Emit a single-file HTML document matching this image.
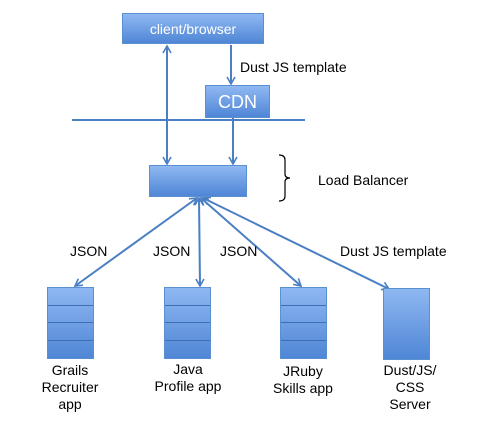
<!DOCTYPE html>
<html><head><style>
body{margin:0;width:484px;height:425px;background:#fff;position:relative;font-family:"Liberation Sans",sans-serif;overflow:hidden}
.b{position:absolute;background:linear-gradient(#8fb8f2,#4f86d6);border:1px solid #5a8fd0;box-sizing:border-box;color:#fff;text-align:center}
.t{position:absolute;font-size:14px;color:#000;text-align:center;line-height:17px}
.s{position:absolute;box-sizing:border-box;border:1px solid #5a8fd0;background:linear-gradient(#8fb8f2,#4f86d6)}
.s div{height:25%;box-sizing:border-box;border-bottom:1px solid #3d6fb5}
.s div:last-child{border-bottom:none}
</style></head><body>
<svg width="484" height="425" style="position:absolute;left:0;top:0">
<defs><marker id="a" markerWidth="10" markerHeight="10" refX="8" refY="5" orient="auto-start-reverse" markerUnits="userSpaceOnUse"><path d="M1,1 L8,5 L1,9" fill="none" stroke="#4a7fc4" stroke-width="1.6"/></marker></defs>
<g stroke="#4a7fc4" stroke-width="2" fill="none">
<line x1="72" y1="120" x2="305" y2="120"/>
<line x1="167" y1="46" x2="167" y2="164" marker-start="url(#a)" marker-end="url(#a)"/>
<line x1="231" y1="45" x2="231" y2="84" marker-end="url(#a)"/>
<line x1="233" y1="118" x2="233" y2="164" marker-end="url(#a)"/>
<line x1="197" y1="198" x2="75" y2="286" marker-start="url(#a)" marker-end="url(#a)"/>
<line x1="199" y1="198" x2="200" y2="286" marker-start="url(#a)" marker-end="url(#a)"/>
<line x1="201" y1="198" x2="301" y2="286" marker-start="url(#a)" marker-end="url(#a)"/>
<line x1="203" y1="198" x2="389" y2="289" marker-start="url(#a)" marker-end="url(#a)"/>
</g>
<path d="M279,155 Q285,155 285,160 L285,174 Q285,178 290,178 Q285,178 285,182 L285,196 Q285,201 279,201" fill="none" stroke="#000" stroke-width="1.2"/>
</svg>
<div class="b" style="left:122px;top:13px;width:142px;height:31px;line-height:31px;font-size:14px">client/browser</div>
<div class="b" style="left:205px;top:85px;width:65px;height:33px;line-height:33px;font-size:18px">CDN</div>
<div class="b" style="left:149px;top:165px;width:98px;height:32px"></div>
<div class="t" style="left:240px;top:59px;text-align:left">Dust JS template</div>
<div class="t" style="left:318px;top:172px;text-align:left">Load Balancer</div>
<div class="t" style="left:70px;top:243px">JSON</div>
<div class="t" style="left:153px;top:243px">JSON</div>
<div class="t" style="left:220px;top:243px">JSON</div>
<div class="t" style="left:340px;top:243px">Dust JS template</div>
<div class="s" style="left:47px;top:287px;width:47px;height:72px"><div></div><div></div><div></div><div></div></div>
<div class="s" style="left:164px;top:287px;width:47px;height:72px"><div></div><div></div><div></div><div></div></div>
<div class="s" style="left:280px;top:287px;width:47px;height:72px"><div></div><div></div><div></div><div></div></div>
<div class="s" style="left:383px;top:288px;width:47px;height:72px"></div>
<div class="t" style="left:20px;top:362px;width:100px">Grails<br>Recruiter<br>app</div>
<div class="t" style="left:138px;top:361px;width:100px">Java<br>Profile app</div>
<div class="t" style="left:253px;top:363px;width:100px">JRuby<br>Skills app</div>
<div class="t" style="left:360px;top:362px;width:100px">Dust/JS/<br>CSS<br>Server</div>
</body></html>
